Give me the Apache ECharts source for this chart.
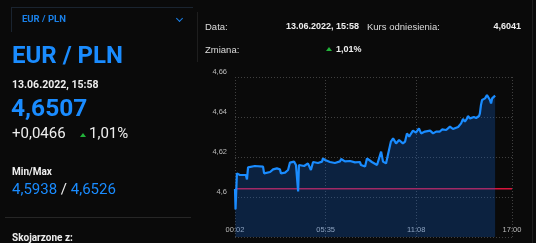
<!DOCTYPE html>
<html><head><meta charset="utf-8">
<script src="https://cdn.jsdelivr.net/npm/echarts@6/dist/echarts.min.js"></script>
<style>
html,body{margin:0;padding:0;background:#0a0a0a;width:536px;height:243px;overflow:hidden;font-family:Roboto,Arial,sans-serif;}
.t{position:absolute;white-space:nowrap;line-height:1;}
#chart{position:absolute;left:0;top:0;width:536px;height:243px;}
.ar{font-family:Arial,'Liberation Sans',sans-serif;}
</style></head>
<body>
<div id="chart"></div>
<!-- left panel -->
<div style="position:absolute;left:11px;top:7px;width:181px;height:24px;border-top:1px solid #1a2430;border-left:1px solid #1a2430;"></div>
<div class="t" style="left:22px;top:14px;font-size:9.5px;font-weight:bold;color:#1a80e8;">EUR / PLN</div>
<div style="position:absolute;left:177px;top:16px;width:4px;height:4px;border-right:1.5px solid #1a80e8;border-bottom:1.5px solid #1a80e8;transform:rotate(45deg);"></div>
<div class="t" style="left:12px;top:43px;font-size:24px;font-weight:bold;color:#1a8cff;">EUR / PLN</div>
<div class="t" style="left:12px;top:80px;font-size:10.5px;font-weight:bold;color:#eeeeee;">13.06.2022, 15:58</div>
<div class="t" style="left:11px;top:96px;font-size:24.5px;font-weight:bold;color:#1a8cff;">4,6507</div>
<div class="t" style="left:12px;top:126px;font-size:15px;color:#eeeeee;">+0,0466</div>
<div style="position:absolute;left:80px;top:133px;width:0;height:0;border-left:3px solid transparent;border-right:3px solid transparent;border-bottom:4px solid #22b33a;"></div>
<div class="t" style="left:89px;top:126px;font-size:15px;color:#eeeeee;">1,01%</div>
<div class="t" style="left:12px;top:167px;font-size:10px;font-weight:bold;color:#eeeeee;">Min/Max</div>
<div class="t" style="left:12px;top:182px;font-size:15px;color:#eeeeee;"><span style="color:#1a8cff">4,5938</span> / <span style="color:#1a8cff">4,6526</span></div>
<div style="position:absolute;left:5px;top:217px;width:186px;height:1px;background:#262626;"></div>
<div class="t" style="left:12px;top:233px;font-size:10px;font-weight:bold;color:#eeeeee;">Skojarzone z:</div>
<!-- right info -->
<div style="position:absolute;left:197px;top:12px;width:1px;height:50px;background:#1e1e1e;"></div>
<div style="position:absolute;left:532px;top:0;width:1px;height:243px;background:#1e1e1e;"></div>
<div class="t ar" style="left:205px;top:22px;font-size:9.5px;color:#dddddd;">Data:</div>
<div class="t ar" style="right:177px;top:22px;font-size:9px;font-weight:bold;color:#eeeeee;">13.06.2022, 15:58</div>
<div class="t ar" style="left:367px;top:22px;font-size:9.5px;color:#dddddd;">Kurs odniesienia:</div>
<div class="t ar" style="right:15px;top:22px;font-size:9px;font-weight:bold;color:#eeeeee;">4,6041</div>
<div class="t ar" style="left:205px;top:45px;font-size:9.5px;color:#dddddd;">Zmiana:</div>
<div style="position:absolute;left:326px;top:47px;width:0;height:0;border-left:3px solid transparent;border-right:3px solid transparent;border-bottom:4px solid #22b33a;"></div>
<div class="t ar" style="left:336px;top:45px;font-size:9px;font-weight:bold;color:#eeeeee;">1,01%</div>
<script>
// ---- data ----
const times = ["00:02","00:04","00:09","00:20","00:42","00:46","00:50","01:15","01:45","01:49","02:11","02:22","02:36","02:47","02:51","03:06","03:17","03:24","03:39","03:46","03:52","03:54","03:57","04:01","04:16","04:30","04:41","04:49","05:07","05:22","05:25","05:33","05:51","06:09","06:28","06:32","06:46","07:05","07:23","07:41","07:45","08:00","08:07","08:25","08:44","08:51","08:59","09:06","09:17","09:28","09:35","09:43","09:54","10:05","10:19","10:27","10:34","10:42","10:49","10:56","11:07","11:18","11:26","11:40","11:59","12:10","12:21","12:35","12:43","12:58","13:12","13:23","13:30","13:42","13:53","14:00","14:07","14:15","14:18","14:26","14:33","14:40","14:48","14:59","15:02","15:06","15:10","15:21","15:28","15:34","15:39","15:43","15:47","15:54","15:58"];
const rates = [4.6040,4.5938,4.6118,4.6110,4.6110,4.6088,4.6148,4.6155,4.6152,4.6118,4.6125,4.6138,4.6143,4.6138,4.6118,4.6122,4.6135,4.6172,4.6177,4.6160,4.6165,4.6028,4.6160,4.6168,4.6155,4.6168,4.6135,4.6175,4.6170,4.6177,4.6193,4.6185,4.6175,4.6170,4.6178,4.6190,4.6178,4.6180,4.6173,4.6175,4.6160,4.6152,4.6193,4.6175,4.6160,4.6170,4.6227,4.6177,4.6168,4.6235,4.6277,4.6293,4.6268,4.6285,4.6268,4.6277,4.6318,4.6302,4.6310,4.6332,4.6322,4.6343,4.6318,4.6327,4.6332,4.6318,4.6327,4.6327,4.6338,4.6335,4.6352,4.6340,4.6330,4.6350,4.6368,4.6390,4.6377,4.6393,4.6405,4.6393,4.6385,4.6400,4.6395,4.6405,4.6418,4.6460,4.6485,4.6493,4.6510,4.6503,4.6485,4.6468,4.6493,4.6500,4.6507];
const referenceRate = 4.6041;
const xTickTimes = ["00:02","05:35","11:08","17:00"];
const yTicks = [4.58, 4.60, 4.62, 4.64, 4.66];

const toMin = s => { const p = s.split(':'); return (+p[0])*60 + (+p[1]); };
const fmtMin = m => { const h = Math.floor(m/60), mm = Math.round(m%60); return String(h).padStart(2,'0')+':'+String(mm).padStart(2,'0'); };
const xTicks = xTickTimes.map(toMin);
const series = times.map((t,i)=>[toMin(t), rates[i]]);
const xMin = xTicks[0], xMax = xTicks[xTicks.length-1];

const chart = echarts.init(document.getElementById('chart'), null, {renderer:'canvas'});
chart.setOption({
  animation:false,
  backgroundColor:'transparent',
  grid:{left:235, right:24, top:77, bottom:6},
  xAxis:{
    type:'value', min:xMin, max:xMax,
    axisLine:{show:false},
    axisTick:{show:false, customValues:xTicks},
    axisLabel:{inside:true, customValues:xTicks, margin:3, color:'#bbbbbb', fontSize:7.5, fontFamily:'Arial, Liberation Sans', formatter:v=>fmtMin(v)},
    splitLine:{show:true, lineStyle:{color:'#404040', type:[1,2], width:1}}
  },
  yAxis:{
    type:'value', min:yTicks[0], max:yTicks[yTicks.length-1], interval:0.02,
    axisLine:{show:false}, axisTick:{show:false},
    axisLabel:{showMinLabel:false, margin:8, color:'#bbbbbb', fontSize:7.5, fontFamily:'Arial, Liberation Sans', verticalAlign:'bottom', lineHeight:10,
      formatter:v=>String(Number(v.toFixed(4))).replace('.',',')},
    splitLine:{show:true, lineStyle:{color:'#404040', type:[1,2], width:1}}
  },
  series:[
    {type:'line', z:1, symbol:'none', silent:true, data:[[xMin,referenceRate],[xMax,referenceRate]], lineStyle:{color:'#d8143c', width:1.5}},
    {type:'line', z:2, symbol:'none', data:series, lineStyle:{color:'#1a8cff', width:2.2}, areaStyle:{color:'rgba(18,100,215,0.38)'}}
  ]
});
</script>
</body></html>
